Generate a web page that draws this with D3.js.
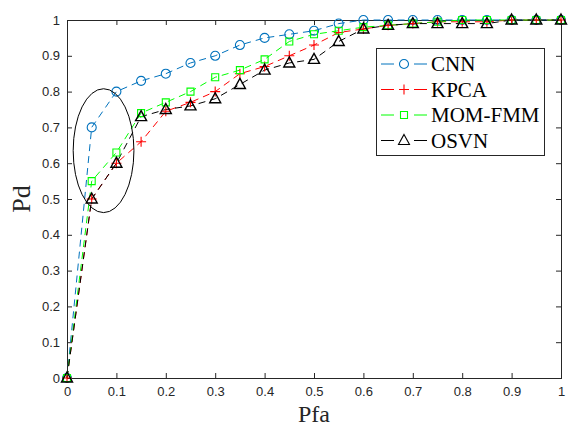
<!DOCTYPE html>
<meta charset="utf-8">
<style>
body { margin: 0; background: #fff; }
.tick text { font-family: "Liberation Sans", Arial, sans-serif; font-size: 13px; fill: #262626; }
.label { font-family: "Liberation Serif", "Times New Roman", serif; font-size: 26px; fill: #262626; }
.legend text { font-family: "Liberation Serif", "Times New Roman", serif; font-size: 21px; fill: #000; }
</style>
<body>
  <svg></svg>
</body>
<script src="https://cdn.jsdelivr.net/npm/d3@7"></script>
<script>

// data
var pfa = [0, 0.05, 0.1, 0.15, 0.2, 0.25, 0.3, 0.35, 0.4, 0.45, 0.5,
           0.55, 0.6, 0.65, 0.7, 0.75, 0.8, 0.85, 0.9, 0.95, 1];
var cnn  = [0, .70, .80, .83, .85, .88, .90, .93, .95, .96, .97, .99, 1, 1, 1, 1, 1, 1, 1, 1, 1];
var kpca = [0, .50, .60, .66, .745, .77, .80, .85, .87, .90, .93, .965, .975, .985, .99, .995, .995, .995, 1, 1, 1];
var mom  = [0, .55, .63, .74, .77, .80, .84, .86, .89, .94, .96, .97, .98, .985, .99, .995, 1, 1, 1, 1, 1];
var osvn = [0, .50, .60, .73, .75, .76, .78, .82, .86, .88, .89, .94, .975, .985, .99, .99, .99, .99, 1, 1, 1];
var seriesNames = ["CNN", "KPCA", "MOM-FMM", "OSVN"];
var xTicks = [0, 0.1, 0.2, 0.3, 0.4, 0.5, 0.6, 0.7, 0.8, 0.9, 1];
var yTicks = [0, 0.1, 0.2, 0.3, 0.4, 0.5, 0.6, 0.7, 0.8, 0.9, 1];
// ellipse drawn around the low-Pfa points (data units)
var ellipse = { cx: 0.074, cy: 0.635, rx: 0.0615, ry: 0.173 };

var width = 568, height = 427;
var margin = { top: 20, right: 7, bottom: 49, left: 67 };

var svg = d3.select("svg").attr("width", width).attr("height", height);

var x = d3.scaleLinear().domain([0, 1]).range([margin.left, width - margin.right]);
var y = d3.scaleLinear().domain([0, 1]).range([height - margin.bottom, margin.top]);

var series = [
  { name: seriesNames[0], values: cnn,  color: "#0072BD", marker: "circle" },
  { name: seriesNames[1], values: kpca, color: "#FF0000", marker: "plus" },
  { name: seriesNames[2], values: mom,  color: "#00FF00", marker: "square" },
  { name: seriesNames[3], values: osvn, color: "#000000", marker: "triangle" }
];

function markerPath(type) {
  if (type == "circle") return d3.symbol().type(d3.symbolCircle).size(64)();
  if (type == "square") return "M-3.5,-3.5H3.5V3.5H-3.5Z";
  if (type == "triangle") return "M0,-6L5.5,4L-5.5,4Z";
  return "M-5,0H5M0,-5V5";
}

// axes
var tickLen = 5;
var xAxis = svg.append("g")
    .attr("transform", "translate(0," + y(0) + ")")
    .call(d3.axisBottom(x).tickValues(xTicks).tickSize(-tickLen).tickPadding(9)
      .tickFormat(function(d) { return d3.format("")(d); }));
var xTop = svg.append("g")
    .attr("transform", "translate(0," + y(1) + ")")
    .call(d3.axisTop(x).tickValues(xTicks).tickSize(-tickLen).tickFormat(""));
var yAxis = svg.append("g")
    .attr("transform", "translate(" + x(0) + ",0)")
    .call(d3.axisLeft(y).tickValues(yTicks).tickSize(-tickLen).tickPadding(7)
      .tickFormat(function(d) { return d3.format("")(d); }));
var yRight = svg.append("g")
    .attr("transform", "translate(" + x(1) + ",0)")
    .call(d3.axisRight(y).tickValues(yTicks).tickSize(-tickLen).tickFormat(""));

svg.selectAll(".domain, .tick line").attr("stroke", "#262626");
svg.selectAll(".domain").attr("shape-rendering", "crispEdges");

// lines + markers
var line = d3.line()
    .x(function(d, i) { return x(pfa[i]); })
    .y(function(d) { return y(d); });

series.forEach(function(s) {
  svg.append("path")
      .attr("d", line(s.values))
      .attr("fill", "none")
      .attr("stroke", s.color)
      .attr("stroke-width", 1)
      .attr("stroke-dasharray", "7,5");
});

series.forEach(function(s) {
  svg.append("g").selectAll("path")
    .data(s.values)
    .enter().append("path")
      .attr("transform", function(d, i) { return "translate(" + x(pfa[i]) + "," + y(d) + ")"; })
      .attr("d", markerPath(s.marker))
      .attr("fill", "none")
      .attr("stroke", s.color)
      .attr("stroke-width", s.marker == "triangle" ? 1.4 : 1.1);
});

// ellipse
svg.append("ellipse")
    .attr("cx", x(ellipse.cx))
    .attr("cy", y(ellipse.cy))
    .attr("rx", x(ellipse.rx) - x(0))
    .attr("ry", y(0) - y(ellipse.ry))
    .attr("fill", "none")
    .attr("stroke", "#000")
    .attr("stroke-width", 1);

// axis labels
svg.append("text")
    .attr("class", "label")
    .style("font-size", "24px")
    .attr("x", (x(0) + x(1)) / 2)
    .attr("y", 421.5)
    .attr("text-anchor", "middle")
    .text("Pfa");
svg.append("text")
    .attr("class", "label")
    .attr("transform", "translate(30," + y(0.5) + ") rotate(-90)")
    .attr("text-anchor", "middle")
    .text("Pd");

// legend
var legend = svg.append("g").attr("class", "legend");
legend.append("rect")
    .attr("x", 376.5).attr("y", 48.5)
    .attr("width", 168).attr("height", 107)
    .attr("fill", "#fff")
    .attr("stroke", "#262626");

var item = legend.selectAll(".item")
    .data(series)
    .enter().append("g")
    .attr("class", "item")
    .attr("transform", function(d, i) { return "translate(381," + (64 + i * 25.5) + ")"; });

item.append("line")
    .attr("x1", 0).attr("x2", 46)
    .attr("stroke", function(d) { return d.color; })
    .attr("stroke-dasharray", "13,20");
item.append("path")
    .attr("transform", "translate(23,0)")
    .attr("d", function(d) { return markerPath(d.marker); })
    .attr("fill", "none")
    .attr("stroke", function(d) { return d.color; })
    .attr("stroke-width", 1.1);
item.append("text")
    .attr("x", 50)
    .attr("dy", "0.35em")
    .text(function(d) { return d.name; });

</script>
